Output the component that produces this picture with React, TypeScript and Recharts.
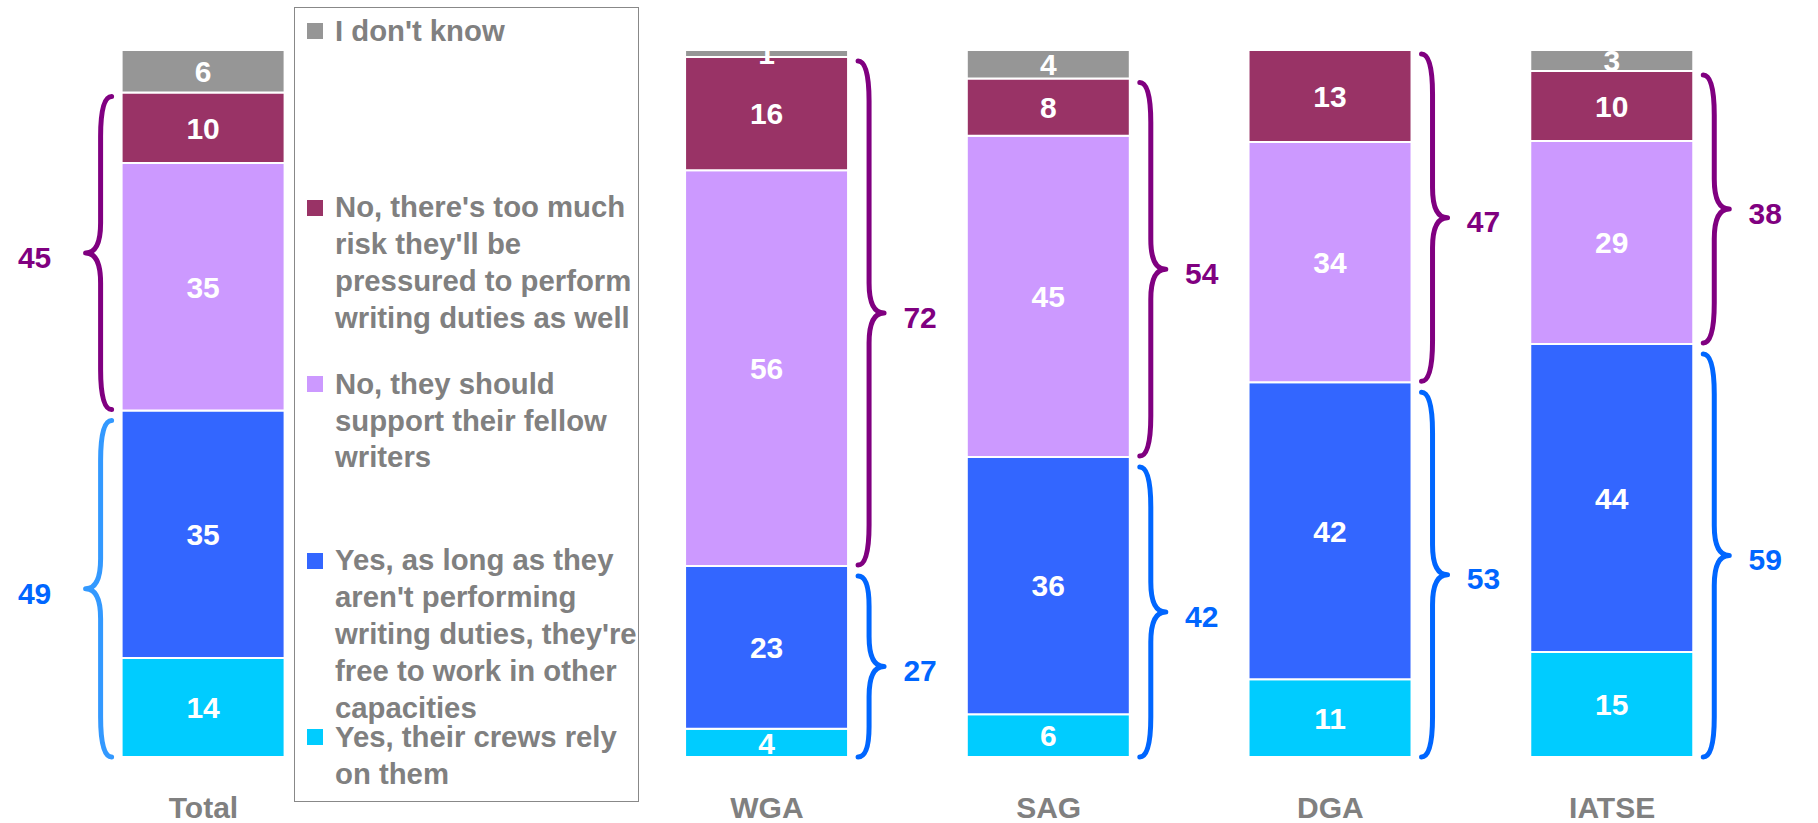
import React from 'react';
import { BarChart, Bar, XAxis, YAxis, LabelList } from 'recharts';

// ---------- data ----------
const categories = ['Total', '', 'WGA', 'SAG', 'DGA', 'IATSE'];
const crewsRely = [14, 0, 4, 6, 11, 15];
const asLongAs = [35, 0, 23, 36, 42, 44];
const supportWriters = [35, 0, 56, 45, 34, 29];
const tooMuchRisk = [10, 0, 16, 8, 13, 10];
const dontKnow = [6, 0, 1, 4, 0, 3];
const yesNet = [49, 0, 27, 42, 53, 59];
const noNet = [45, 0, 72, 54, 47, 38];
const leftBraceCategories = ['Total'];

const legendItems = [
  { key: 'idk', lines: ["I don't know"] },
  { key: 'risk', lines: ["No, there's too much", "risk they'll be", 'pressured to perform', 'writing duties as well'] },
  { key: 'support', lines: ['No, they should', 'support their fellow', 'writers'] },
  { key: 'aslong', lines: ['Yes, as long as they', "aren't performing", "writing duties, they're", 'free to work in other', 'capacities'] },
  { key: 'crews', lines: ['Yes, their crews rely', 'on them'] },
];

// ---------- styles ----------
const FONT = '"Liberation Sans", Arial, Helvetica, sans-serif';
const COLORS: Record<string, string> = {
  idk: '#969696',
  risk: '#993366',
  support: '#CC99FF',
  aslong: '#3366FF',
  crews: '#00CCFF',
};
const PURPLE = '#800080';
const BLUE = '#0066FF';
const LIGHT_BLUE = '#3399FF';

const data = categories.map((name, i) => ({
  name,
  crews: crewsRely[i],
  aslong: asLongAs[i],
  support: supportWriters[i],
  risk: tooMuchRisk[i],
  idk: dontKnow[i],
  yesSum: crewsRely[i] + asLongAs[i],
  noSum: supportWriters[i] + tooMuchRisk[i],
  idkB: dontKnow[i],
  yesNet: yesNet[i],
  noNet: noNet[i],
}));

const valueLabel = (props: any) => {
  const { x, y, width, height, value } = props;
  if (!value) return null;
  return (
    <text
      x={x + width / 2}
      y={y + height / 2}
      dy="0.36em"
      textAnchor="middle"
      fill="#ffffff"
      fontSize={30}
      fontWeight="bold"
      fontFamily={FONT}
    >
      {value}
    </text>
  );
};

function bracePath(side: 'left' | 'right', edgeX: number, top: number, bottom: number) {
  const d = side === 'right' ? 1 : -1;
  const x0 = edgeX + d * 10;
  const x1 = edgeX + d * 21;
  const x2 = edgeX + d * 36;
  const mid = (top + bottom) / 2;
  const h = bottom - top;
  const re = Math.min(40, h / 6);
  const rt = Math.min(30, h / 6);
  return `M${x0},${top} Q${x1},${top} ${x1},${top + re} L${x1},${mid - rt} Q${x1},${mid} ${x2},${mid} Q${x1},${mid} ${x1},${mid + rt} L${x1},${bottom - re} Q${x1},${bottom} ${x0},${bottom}`;
}

const makeBrace = (kind: 'yes' | 'no') => (props: any) => {
  const { x, y, width, height, payload } = props;
  if (!height || height <= 0 || !payload) return <g />;
  const side: 'left' | 'right' = leftBraceCategories.includes(payload.name) ? 'left' : 'right';
  const top = kind === 'no' ? y + 4 : y + 10;
  const bottom = kind === 'no' ? y + height - 1 : y + height;
  const edgeX = side === 'right' ? x + width : x;
  const mid = (top + bottom) / 2;
  const stroke = kind === 'no' ? PURPLE : side === 'left' ? LIGHT_BLUE : BLUE;
  const labelColor = kind === 'no' ? PURPLE : BLUE;
  const labelX = side === 'right' ? edgeX + 72 : edgeX - 87;
  const label = kind === 'no' ? payload.noNet : payload.yesNet;
  return (
    <g>
      <path d={bracePath(side, edgeX, top, bottom)} fill="none" stroke={stroke} strokeWidth={5} strokeLinecap="round" strokeLinejoin="round" />
      <text
        x={labelX}
        y={mid + 4}
        dy="0.36em"
        textAnchor="middle"
        fill={labelColor}
        fontSize={30}
        fontWeight="bold"
        fontFamily={FONT}
      >
        {label}
      </text>
    </g>
  );
};

const Legendbox = () => (
  <div
    style={{
      position: 'absolute',
      left: 294,
      top: 7,
      width: 345,
      height: 795,
      border: '1.5px solid #888888',
      boxSizing: 'border-box',
      fontFamily: FONT,
      pointerEvents: 'none',
    }}
  >
    {legendItems.map((it, i) => {
      const center = 30 + i * 176.6 - 7;
      return (
        <div key={it.key}>
          <div
            style={{
              position: 'absolute',
              left: 306 - 294,
              top: center - 8,
              width: 16,
              height: 16,
              background: COLORS[it.key],
            }}
          />
          <div
            style={{
              position: 'absolute',
              left: 334 - 294,
              top: center - 18.4,
              fontSize: 29.3,
              lineHeight: '36.8px',
              fontWeight: 'bold',
              color: '#808080',
              whiteSpace: 'nowrap',
            }}
          >
            {it.lines.map((l, j) => (
              <div key={j}>{l}</div>
            ))}
          </div>
        </div>
      );
    })}
  </div>
);

export default function App() {
  return (
    <div style={{ position: 'absolute', left: 0, top: 0, width: 1818, height: 823, background: '#fff' }}>
      <BarChart
        width={1818}
        height={823}
        data={data}
        stackOffset="expand"
        margin={{ top: 50, right: 65, left: 62.6, bottom: 16 }}
      >
        <XAxis
          dataKey="name"
          axisLine={false}
          tickLine={false}
          tickSize={0}
          tickMargin={40}
          height={50}
          interval={0}
          tick={{ fill: '#808080', fontSize: 30, fontWeight: 'bold', fontFamily: FONT }}
        />
        <XAxis xAxisId="b" dataKey="name" hide />
        <YAxis hide domain={[0, 1]} />
        <Bar dataKey="crews" stackId="a" fill={COLORS.crews} stroke="#fff" strokeWidth={2} barSize={163} isAnimationActive={false}>
          <LabelList dataKey="crews" content={valueLabel} />
        </Bar>
        <Bar dataKey="aslong" stackId="a" fill={COLORS.aslong} stroke="#fff" strokeWidth={2} barSize={163} isAnimationActive={false}>
          <LabelList dataKey="aslong" content={valueLabel} />
        </Bar>
        <Bar dataKey="support" stackId="a" fill={COLORS.support} stroke="#fff" strokeWidth={2} barSize={163} isAnimationActive={false}>
          <LabelList dataKey="support" content={valueLabel} />
        </Bar>
        <Bar dataKey="risk" stackId="a" fill={COLORS.risk} stroke="#fff" strokeWidth={2} barSize={163} isAnimationActive={false}>
          <LabelList dataKey="risk" content={valueLabel} />
        </Bar>
        <Bar dataKey="idk" stackId="a" fill={COLORS.idk} stroke="#fff" strokeWidth={2} barSize={163} isAnimationActive={false}>
          <LabelList dataKey="idk" content={valueLabel} />
        </Bar>
        <Bar dataKey="yesSum" stackId="b" xAxisId="b" fill="none" barSize={163} isAnimationActive={false} shape={makeBrace('yes')} />
        <Bar dataKey="noSum" stackId="b" xAxisId="b" fill="none" barSize={163} isAnimationActive={false} shape={makeBrace('no')} />
        <Bar dataKey="idkB" stackId="b" xAxisId="b" fill="none" barSize={163} isAnimationActive={false} shape={() => <g />} />
      </BarChart>
      <Legendbox />
    </div>
  );
}
